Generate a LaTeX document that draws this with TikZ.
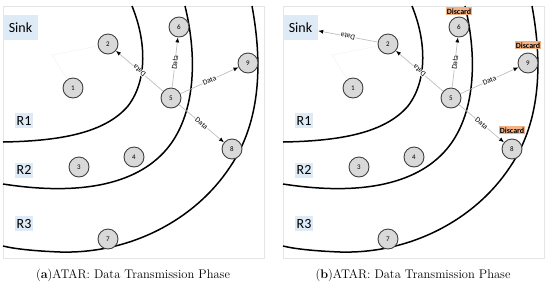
\documentclass[tikz,border=0pt]{standalone}
\usepackage{fontspec}
\newfontfamily\calibri{Carlito}
\usepackage{xcolor}
\usepackage{tikz}
\usetikzlibrary{arrows.meta, positioning}

\definecolor{regionblue}{HTML}{DEEBF7}
\definecolor{discardorange}{HTML}{F4B183}
\definecolor{nodegray}{HTML}{D9D9D9}

\tikzset{
  sensor/.style={circle, draw=black!75, fill=nodegray, line width=0.9pt, minimum size=20pt, inner sep=0pt, font=\calibri\fontsize{7}{7}\selectfont},
  region/.style={fill=regionblue, inner sep=1.5pt, minimum height=15pt, font=\calibri\fontsize{14}{14}\selectfont},
  ring/.style={line width=1.5pt},
  frame/.style={draw=black!10, line width=0.8pt},
  datalink/.style={draw=black!25, line width=0.7pt, -{Latex[length=5pt,width=4pt,color=black]}},
  datalabel/.style={sloped, allow upside down, fill=white, inner sep=0.6pt, font=\calibri\fontsize{7.5}{7.5}\selectfont},
  discard/.style={fill=discardorange, inner sep=1.2pt, font=\calibri\bfseries\fontsize{8}{8}\selectfont},
  faint/.style={draw=black!5, line width=0.5pt},
  caption/.style={anchor=base, font=\fontsize{12.5}{14}\selectfont}
}

\begin{document}
\begin{tikzpicture}[x=1pt, y=-1pt]
\useasboundingbox (0,0) rectangle (550,293);

\foreach \p/\dx in {a/0, b/280} {
  \begin{scope}[shift={(\dx,0)}]
    \draw[frame] (3,6) rectangle (264,258);
    % region boundaries
    \draw[ring] (132,6) .. controls (146,40) and (148,80) .. (128,106)
                        .. controls (105,133) and (60,141) .. (3,142);
    \draw[ring] (185,6) .. controls (197,55) and (196,110) .. (170,145)
                        .. controls (140,185) and (80,196) .. (3,184);
    \draw[ring] (252,6) .. controls (262,60) and (262,120) .. (230,167)
                        .. controls (195,220) and (130,254) .. (60,252)
                        .. controls (35,251) and (15,249) .. (3,246);

    \node[region, minimum width=35pt, minimum height=25pt] (\p sink) at (20.5,27.5) {Sink};
    \node[region] (\p r1) at (24,120.5) {R1};
    \node[region] (\p r2) at (24,170) {R2};
    \node[region] (\p r3) at (24,223.5) {R3};

    \coordinate (\p bend) at (52,55);
    \foreach \n/\x/\y in {1/73/88, 2/108/44, 3/79/167, 4/134/157, 5/171/98, 6/179/27, 7/108/239, 8/232/149, 9/248/63}
      \node[sensor] (\p\n) at (\x,\y) {\n};
    \draw[faint] (\p2) -- (\p bend) -- (\p1);

    \path[datalink]
      (\p5) edge node[datalabel] {Data} (\p2)
            edge node[datalabel] {Data} (\p6)
            edge node[datalabel] {Data} (\p9)
            edge node[datalabel] {Data} (\p8);

    \node[caption] (\p cap) at (133,278) {(\textbf{\p})ATAR: Data Transmission Phase};
  \end{scope}
}

% second phase: forwarding to the sink, duplicates dropped
\path[datalink] (b2) edge node[datalabel] {Data} (bsink);
\node[discard, above=1pt of b6] (b6d) {Discard};
\node[discard, above=3pt of b9] (b9d) {Discard};
\node[discard, above=4pt of b8] (b8d) {Discard};
\end{tikzpicture}
\end{document}
